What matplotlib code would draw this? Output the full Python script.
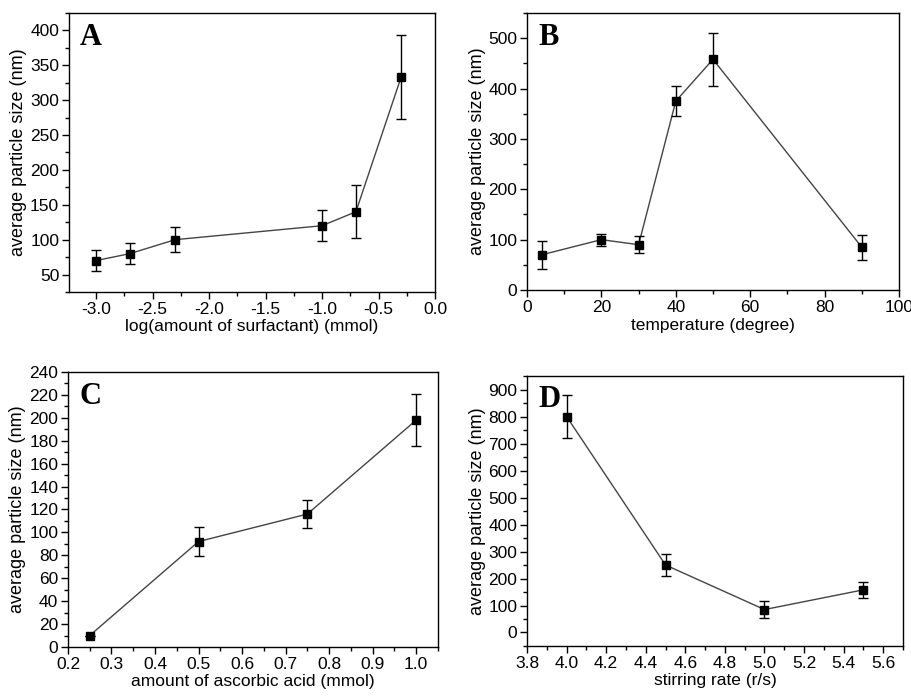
import matplotlib
matplotlib.use("Agg")
import matplotlib.pyplot as plt
from matplotlib.ticker import MultipleLocator

plt.rcParams["font.family"] = ["Liberation Sans", "DejaVu Sans"]
plt.rcParams["axes.unicode_minus"] = False

# panel A: surfactant
surf_x = [-3.0, -2.7, -2.3, -1.0, -0.7, -0.3]
surf_y = [70, 80, 100, 120, 140, 333]
surf_err = [15, 15, 18, 22, 38, 60]

# panel B: temperature
temp_x = [4, 20, 30, 40, 50, 90]
temp_y = [70, 100, 90, 375, 458, 85]
temp_err = [28, 12, 17, 30, 52, 25]

# panel C: ascorbic acid
acid_x = [0.25, 0.5, 0.75, 1.0]
acid_y = [10, 92, 116, 198]
acid_err = [0, 13, 12, 23]

# panel D: stirring rate
stir_x = [4.0, 4.5, 5.0, 5.5]
stir_y = [800, 250, 85, 158]
stir_err = [80, 40, 30, 30]

ylabel = "average particle size (nm)"


def make_panel(fig, rect, x, y, err, letter, xlabel, xlim, ylim,
               xmaj, xmin, ymaj, ymin, xfmt=None):
    ax = fig.add_axes(rect)
    ax.plot(x, y, color="#444444", lw=1.0, zorder=2)
    ax.errorbar(x, y, yerr=err, fmt="s", color="black", ms=5.5,
                ecolor="black", elinewidth=1.0, capsize=3.5, capthick=1.0,
                zorder=3)
    ax.set_xlim(*xlim)
    ax.set_ylim(*ylim)
    ax.xaxis.set_major_locator(MultipleLocator(xmaj))
    ax.xaxis.set_minor_locator(MultipleLocator(xmin))
    ax.yaxis.set_major_locator(MultipleLocator(ymaj))
    ax.yaxis.set_minor_locator(MultipleLocator(ymin))
    if xfmt:
        ax.xaxis.set_major_formatter(xfmt)
    ax.tick_params(which="major", direction="out", length=5, width=1,
                   labelsize=12.5, top=False, right=False, pad=2)
    ax.tick_params(which="minor", direction="out", length=3, width=1,
                   top=False, right=False)
    for s in ax.spines.values():
        s.set_linewidth(1.0)
    ax.set_xlabel(xlabel, fontsize=12.5, labelpad=2)
    ax.set_ylabel(ylabel, fontsize=13, labelpad=2)
    ax.text(0.03, 0.965, letter, transform=ax.transAxes, ha="left",
            va="top", fontsize=22, fontweight="bold",
            family="Liberation Serif")
    return ax


fig = plt.figure(figsize=(9.11, 6.98), dpi=100)

make_panel(fig, [0.0757, 0.5817, 0.4018, 0.3997], surf_x, surf_y, surf_err,
           "A", "log(amount of surfactant) (mmol)", (-3.24, 0.0), (25, 425),
           0.5, 0.25, 50, 25, "{x:.1f}")
make_panel(fig, [0.5785, 0.5845, 0.4083, 0.3969], temp_x, temp_y, temp_err,
           "B", "temperature (degree)", (0, 100), (0, 550),
           20, 10, 100, 50)
make_panel(fig, [0.0746, 0.0731, 0.4061, 0.3940], acid_x, acid_y, acid_err,
           "C", "amount of ascorbic acid (mmol)", (0.2, 1.05), (0, 240),
           0.1, 0.05, 20, 10, "{x:.1f}")
make_panel(fig, [0.5785, 0.0745, 0.4127, 0.3868], stir_x, stir_y, stir_err,
           "D", "stirring rate (r/s)", (3.8, 5.7), (-50, 950),
           0.2, 0.1, 100, 50, "{x:.1f}")

plt.savefig("out.png", dpi=100)
